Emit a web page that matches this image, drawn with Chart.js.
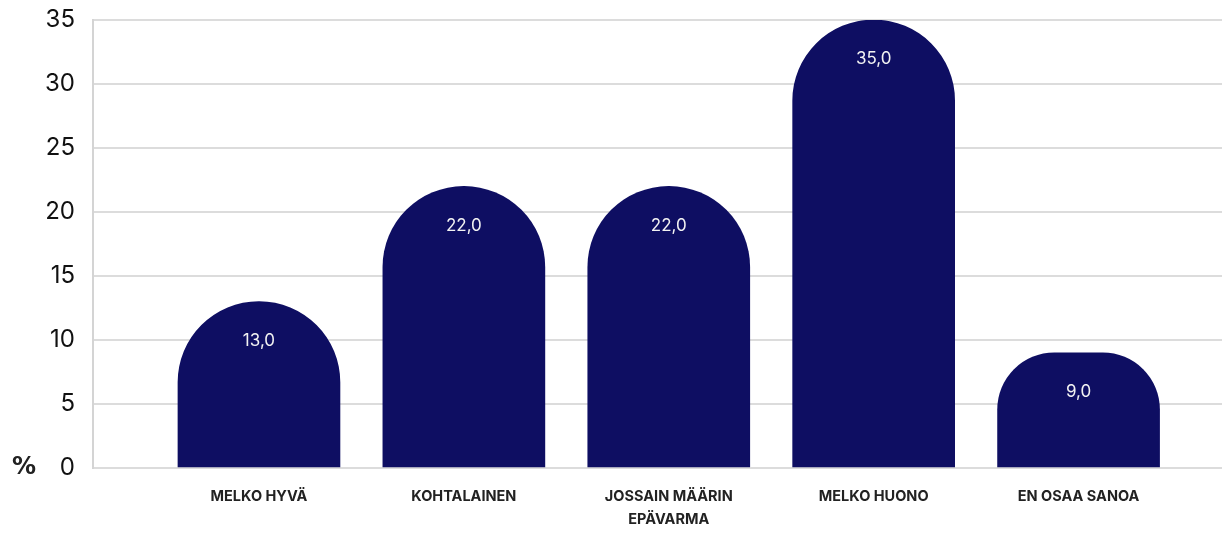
<!DOCTYPE html>
<html><head><meta charset="utf-8">
<script src="https://cdn.jsdelivr.net/npm/chart.js@4/dist/chart.umd.min.js"></script>
<style>html,body{margin:0;padding:0;background:#fff}#wrap{width:1231px;height:534px}</style>
</head><body><div id="wrap"><canvas id="c" width="1231" height="534"></canvas></div>
<script>
const categories = ['MELKO HYVÄ', 'KOHTALAINEN', ['JOSSAIN MÄÄRIN', 'EPÄVARMA'], 'MELKO HUONO', 'EN OSAA SANOA'];
const values = [13.0, 22.0, 22.0, 35.0, 9.0];
const yTicks = [0, 5, 10, 15, 20, 25, 30, 35];
const unitLabel = '%';

const barColor = '#0e0e62';

const valueLabels = {
  id: 'valueLabels',
  afterDatasetsDraw(chart) {
    const ctx = chart.ctx;
    const meta = chart.getDatasetMeta(0);
    ctx.save();
    ctx.fillStyle = '#f2f2f2';
    ctx.font = '17px Inter, "Open Sans", sans-serif';
    ctx.textAlign = 'center';
    ctx.textBaseline = 'middle';
    meta.data.forEach((el, i) => {
      ctx.fillText(values[i].toFixed(1).replace('.', ','), el.x, el.y + 39);
    });
    ctx.restore();
  }
};
const unitPlugin = {
  id: 'unitPlugin',
  afterDraw(chart) {
    const ctx = chart.ctx;
    ctx.save();
    ctx.fillStyle = '#222';
    ctx.font = 'bold 24px "DejaVu Sans", sans-serif';
    ctx.textAlign = 'center';
    ctx.textBaseline = 'middle';
    ctx.fillText(unitLabel, 24, chart.chartArea.bottom);
    ctx.restore();
  }
};

new Chart(document.getElementById('c'), {
  type: 'bar',
  data: {
    datasets: [{
      data: values.map((v, i) => ({x: i, y: v})),
      backgroundColor: barColor,
      borderRadius: {topLeft: 200, topRight: 200, bottomLeft: 0, bottomRight: 0},
      borderSkipped: 'bottom',
      barThickness: 162
    }]
  },
  options: {
    responsive: false,
    animation: false,
    devicePixelRatio: 1,
    layout: {padding: {top: 20, right: 9, left: 0, bottom: 0}},
    plugins: {legend: {display: false}, tooltip: {enabled: false}},
    scales: {
      x: {
        type: 'linear',
        offset: false,
        min: -0.81,
        max: 4.70,
        afterBuildTicks: (s) => { s.ticks = categories.map((_, i) => ({value: i})); },
        afterFit: (s) => { s.height = 66; s.paddingLeft = 0; s.paddingRight = 0; },
        grid: {display: false, drawTicks: false},
        border: {display: false},
        ticks: {
          autoSkip: false,
          maxRotation: 0,
          padding: 17,
          color: '#222',
          font: {family: 'Inter, Lato, sans-serif', size: 14.5, weight: 'bold', lineHeight: 1.6},
          callback: (v) => categories[v]
        }
      },
      y: {
        min: 0,
        max: 35,
        afterBuildTicks: (s) => { s.ticks = yTicks.map(v => ({value: v})); },
        afterFit: (s) => { s.width = 93; s.paddingTop = 0; s.paddingBottom = 0; },
        grid: {color: '#dcdcdc', lineWidth: 2, drawTicks: false},
        border: {display: true, color: '#d4d4d4', width: 2},
        ticks: {
          padding: 18,
          color: '#111',
          font: {family: 'Inter, sans-serif', size: 24, weight: '400'}
        }
      }
    }
  },
  plugins: [valueLabels, unitPlugin]
});
</script></body></html>
